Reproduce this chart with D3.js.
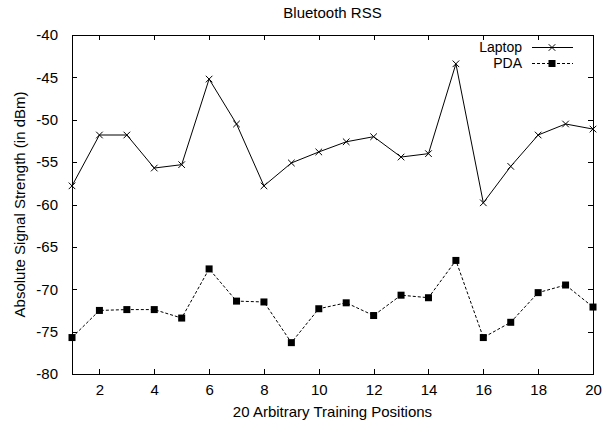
<!DOCTYPE html>
<html lang="en">
<meta charset="utf-8">
<script src="https://d3js.org/d3.v7.min.js"></script>
<style>
  body { margin: 0; background: #fff; }
  text { font-family: "Liberation Sans", Arial, Helvetica, sans-serif; }
</style>
<div id="my_dataviz"></div>
<script>

// data
var positions = d3.range(1, 21);
var laptop = [-57.8, -51.8, -51.8, -55.7, -55.3, -45.2, -50.5, -57.8, -55.1, -53.8,
              -52.6, -52.0, -54.4, -54.0, -43.4, -59.8, -55.5, -51.8, -50.5, -51.1];
var pda = [-75.7, -72.5, -72.4, -72.4, -73.4, -67.6, -71.4, -71.5, -76.3, -72.3,
           -71.6, -73.1, -70.7, -71.0, -66.6, -75.7, -73.9, -70.4, -69.5, -72.1];
var xTicks = [2, 4, 6, 8, 10, 12, 14, 16, 18, 20];
var yTicks = [-40, -45, -50, -55, -60, -65, -70, -75, -80];

var margin = {top: 35, right: 9, bottom: 54, left: 72},
    width = 602 - margin.left - margin.right,
    height = 428 - margin.top - margin.bottom;

var svg = d3.select("#my_dataviz")
  .append("svg")
    .attr("width", 602)
    .attr("height", 428)
  .append("g")
    .attr("transform", "translate(" + margin.left + "," + margin.top + ")");

var x = d3.scaleLinear().domain([1, 20]).range([0, width]);
var y = d3.scaleLinear().domain([-80, -40]).range([height, 0]);

var fs = "15px";
var tickLen = 5;
// plain hyphen for negatives, like the original
var plain = function(d) { return String(d); };

// axes with inward ticks (mirrored top/right like gnuplot)
function styleAxis(g) {
  g.select(".domain").remove();
  g.selectAll("line").attr("stroke", "#000").attr("shape-rendering", "crispEdges");
  g.selectAll("text").style("font-size", fs).attr("fill", "#000");
}

svg.append("g")
  .attr("transform", "translate(0," + height + ")")
  .call(d3.axisBottom(x).tickValues(xTicks).tickSize(-tickLen).tickFormat(plain))
  .call(styleAxis)
  .selectAll("text").attr("y", 21).attr("dy", 0);

svg.append("g")
  .call(d3.axisTop(x).tickValues(xTicks).tickSize(-tickLen).tickFormat(""))
  .call(styleAxis);

svg.append("g")
  .call(d3.axisLeft(y).tickValues(yTicks).tickSize(-tickLen).tickPadding(14).tickFormat(plain))
  .call(styleAxis);

svg.append("g")
  .attr("transform", "translate(" + width + ",0)")
  .call(d3.axisRight(y).tickValues(yTicks).tickSize(-tickLen).tickFormat(""))
  .call(styleAxis);

// frame
svg.append("rect")
  .attr("x", 0).attr("y", 0)
  .attr("width", width).attr("height", height)
  .attr("fill", "none")
  .attr("stroke", "#000")
  .attr("shape-rendering", "crispEdges");

var line = d3.line()
  .x(function(d, i) { return x(positions[i]); })
  .y(function(d) { return y(d); });

// Laptop series
svg.append("path")
  .datum(laptop)
  .attr("fill", "none")
  .attr("stroke", "#000")
  .attr("stroke-width", 1)
  .attr("d", line);

var cross = d3.symbol().type(d3.symbolX).size(30);
svg.selectAll(".lap")
  .data(laptop)
  .enter()
  .append("path")
    .attr("class", "lap")
    .attr("d", cross)
    .attr("transform", function(d, i) { return "translate(" + x(positions[i]) + "," + y(d) + ")"; })
    .attr("fill", "none")
    .attr("stroke", "#000")
    .attr("stroke-width", 1);

// PDA series
svg.append("path")
  .datum(pda)
  .attr("fill", "none")
  .attr("stroke", "#000")
  .attr("stroke-width", 1)
  .attr("stroke-dasharray", "3,2")
  .attr("d", line);

svg.selectAll(".pda")
  .data(pda)
  .enter()
  .append("rect")
    .attr("class", "pda")
    .attr("x", function(d, i) { return x(positions[i]) - 3.5; })
    .attr("y", function(d) { return y(d) - 3.5; })
    .attr("width", 7)
    .attr("height", 7)
    .attr("fill", "#000");

// legend
var legend = svg.append("g");
legend.append("text")
  .attr("x", 450).attr("y", 17)
  .attr("text-anchor", "end")
  .style("font-size", "14px")
  .text("Laptop");
legend.append("line")
  .attr("x1", 460).attr("x2", 501).attr("y1", 12.5).attr("y2", 12.5)
  .attr("stroke", "#000");
legend.append("path")
  .attr("d", cross)
  .attr("transform", "translate(480,12.5)")
  .attr("fill", "none").attr("stroke", "#000");

legend.append("text")
  .attr("x", 450).attr("y", 33)
  .attr("text-anchor", "end")
  .style("font-size", "14px")
  .text("PDA");
legend.append("line")
  .attr("x1", 460).attr("x2", 501).attr("y1", 28.5).attr("y2", 28.5)
  .attr("stroke", "#000")
  .attr("stroke-dasharray", "3,2");
legend.append("rect")
  .attr("x", 476.5).attr("y", 25).attr("width", 7).attr("height", 7)
  .attr("fill", "#000");

// title
svg.append("text")
  .attr("x", width / 2)
  .attr("y", -17)
  .attr("text-anchor", "middle")
  .style("font-size", fs)
  .text("Bluetooth RSS");

// axis labels
svg.append("text")
  .attr("x", width / 2)
  .attr("y", height + 43)
  .attr("text-anchor", "middle")
  .style("font-size", fs)
  .text("20 Arbitrary Training Positions");

svg.append("text")
  .attr("transform", "translate(" + (25 - margin.left) + "," + (height / 2) + ") rotate(-90)")
  .attr("text-anchor", "middle")
  .style("font-size", fs)
  .text("Absolute Signal Strength (in dBm)");

</script>
</html>
